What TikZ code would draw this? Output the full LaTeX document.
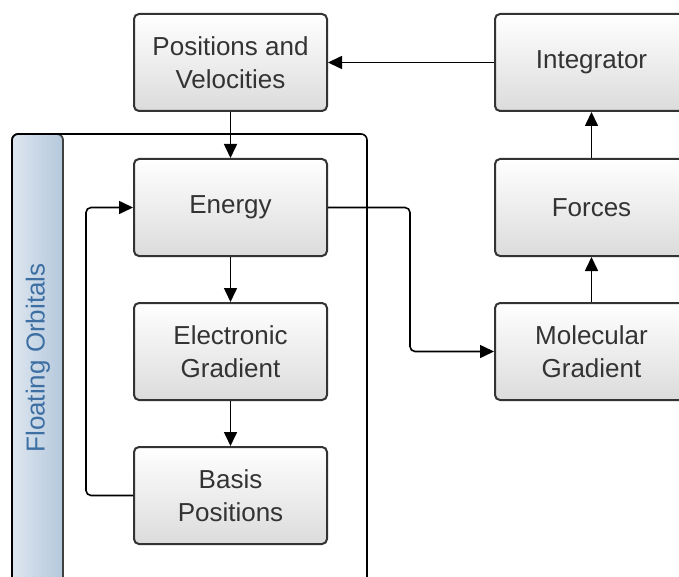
\documentclass[tikz,border=0pt]{standalone}
\usepackage{fontspec}
\setmainfont{Liberation Sans}
\usetikzlibrary{arrows.meta}
\definecolor{bandblue}{HTML}{B4C8DC}
\definecolor{bandtext}{HTML}{3D6FA3}
\tikzset{
  box/.style={draw=black!80, line width=1pt, rounded corners=2.5pt,
    top color=white, bottom color=black!14, minimum width=96.5pt,
    minimum height=48.5pt, inner sep=0pt, align=center, text=black!80,
    font=\fontsize{13}{16.5}\selectfont},
  flow/.style={-{Triangle[length=7pt,width=6.5pt]}, line width=0.8pt,
    rounded corners=2.5pt},
}
\begin{document}
\begin{tikzpicture}[x=0.5pt,y=-0.5pt]
\clip (0,0) rectangle (679,577);

% Floating orbitals container
\draw[draw=black!75, line width=0.9pt, left color=bandblue!45, right color=bandblue,
  rounded corners=3pt] (12,134) rectangle (63,600);
\draw[line width=0.8pt, rounded corners=3pt] (12,134) rectangle (367,600);
\node[rotate=90, text=bandtext, font=\fontsize{13}{16}\selectfont] (fo) at (38,358) {Floating Orbitals};

% Left column
\node[box] (pos) at (230.5,62.5) {Positions and\\Velocities};
\node[box] (energy) at (230.5,207.5) {Energy};
\node[box] (egrad) at (230.5,351.5) {Electronic\\Gradient};
\node[box] (basis) at (230.5,495.5) {Basis\\Positions};

% Right column
\node[box] (integ) at (591.5,62.5) {Integrator};
\node[box] (forces) at (591.5,207.5) {Forces};
\node[box] (mgrad) at (591.5,351.5) {Molecular\\Gradient};

% Connections
\draw[flow] (integ.west) -- (pos.east);
\draw[flow] (pos.south) -- (energy.north);
\draw[flow] (energy.south) -- (egrad.north);
\draw[flow] (egrad.south) -- (basis.north);
\draw[flow] (basis.west) -- ++(-47,0) |- (energy.west);
\draw[flow] (energy.east) -- ++(82,0) |- (mgrad.west);
\draw[flow] (mgrad.north) -- (forces.south);
\draw[flow] (forces.north) -- (integ.south);
\end{tikzpicture}
\end{document}
